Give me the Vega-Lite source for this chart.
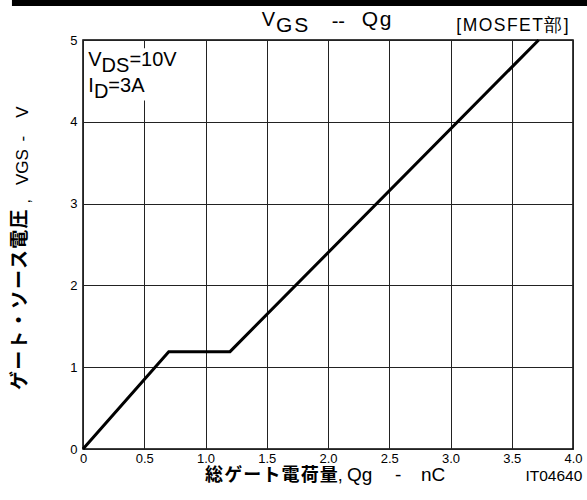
{
  "$schema": "https://vega.github.io/schema/vega-lite/v6.json",
  "width": 490,
  "height": 409,
  "autosize": {"type": "none"},
  "padding": {"left": 83, "top": 40, "right": 14, "bottom": 51},
  "background": "white",
  "config": {
    "view": {"stroke": "black", "strokeWidth": 1.5},
    "font": "Liberation Sans",
    "axis": {
      "grid": true,
      "gridColor": "#222222",
      "gridWidth": 1,
      "gridOpacity": 1,
      "domain": false,
      "ticks": false,
      "labelFont": "Liberation Sans",
      "labelFontSize": 13,
      "labelColor": "black",
      "labelOverlap": false,
      "labelFlush": false,
      "labelBound": false
    }
  },
  "layer": [
    {
      "data": {"values": [
        {"qg": 0, "vgs": 0},
        {"qg": 0.7, "vgs": 1.19},
        {"qg": 1.2, "vgs": 1.19},
        {"qg": 3.72, "vgs": 5}
      ]},
      "mark": {"type": "line", "color": "black", "strokeWidth": 3, "strokeJoin": "miter"},
      "encoding": {
        "x": {"field": "qg", "type": "quantitative", "scale": {"domain": [0, 4], "nice": false, "zero": false},
              "axis": {"title": null, "values": [0, 0.5, 1, 1.5, 2, 2.5, 3, 3.5, 4], "labelPadding": 3,
                       "labelExpr": "datum.value == 0 ? '0' : format(datum.value, '.1f')"}},
        "y": {"field": "vgs", "type": "quantitative", "scale": {"domain": [0, 5], "nice": false, "zero": false},
              "axis": {"title": null, "values": [0, 1, 2, 3, 4, 5], "labelPadding": 6,
                       "labelExpr": "format(datum.value, 'd')"}}
      }
    },
    {
      "data": {"values": [{}]},
      "mark": {"type": "rect", "color": "white"},
      "encoding": {"x": {"datum": 0.012}, "x2": {"datum": 0.76}, "y": {"datum": 4.26}, "y2": {"datum": 4.9}}
    },
    {
      "data": {"values": [{}]},
      "mark": {"type": "rect", "color": "black", "clip": false},
      "encoding": {"x": {"datum": -0.58}, "x2": {"datum": 4.2}, "y": {"datum": 5.416}, "y2": {"datum": 5.55}}
    },
    {"data": {"values": [{}]}, "mark": {"type": "text", "text": "V", "fontSize": 20, "align": "left", "baseline": "alphabetic", "font": "Liberation Sans"},
     "encoding": {"x": {"datum": 1.459}, "y": {"datum": 5.175}}},
    {"data": {"values": [{}]}, "mark": {"type": "text", "text": "G\u200aS", "fontSize": 21, "align": "left", "baseline": "alphabetic", "font": "Liberation Sans"},
     "encoding": {"x": {"datum": 1.576}, "y": {"datum": 5.094}}},
    {"data": {"values": [{}]}, "mark": {"type": "text", "text": "--", "fontSize": 20, "align": "left", "baseline": "alphabetic", "font": "Liberation Sans"},
     "encoding": {"x": {"datum": 2.03}, "y": {"datum": 5.147}}},
    {"data": {"values": [{}]}, "mark": {"type": "text", "text": "Q\u200ag", "fontSize": 21, "align": "left", "baseline": "alphabetic", "font": "Liberation Sans"},
     "encoding": {"x": {"datum": 2.275}, "y": {"datum": 5.171}}},
    {"data": {"values": [{}]}, "mark": {"type": "text", "text": "[\u200aM\u200aO\u200aS\u200aF\u200aE\u200aT\u200a部\u200a]", "fontSize": 17.5, "align": "center", "baseline": "alphabetic", "font": "Liberation Sans"},
     "encoding": {"x": {"datum": 3.506}, "y": {"datum": 5.11}}},
    {"data": {"values": [{}]}, "mark": {"type": "text", "text": "V", "fontSize": 20, "align": "left", "baseline": "alphabetic", "font": "Liberation Sans"},
     "encoding": {"x": {"datum": 0.043}, "y": {"datum": 4.682}}},
    {"data": {"values": [{}]}, "mark": {"type": "text", "text": "DS", "fontSize": 20, "align": "left", "baseline": "alphabetic", "font": "Liberation Sans"},
     "encoding": {"x": {"datum": 0.152}, "y": {"datum": 4.612}}},
    {"data": {"values": [{}]}, "mark": {"type": "text", "text": "=10V", "fontSize": 20, "align": "left", "baseline": "alphabetic", "font": "Liberation Sans"},
     "encoding": {"x": {"datum": 0.379}, "y": {"datum": 4.682}}},
    {"data": {"values": [{}]}, "mark": {"type": "text", "text": "I", "fontSize": 20, "align": "left", "baseline": "alphabetic", "font": "Liberation Sans"},
     "encoding": {"x": {"datum": 0.043}, "y": {"datum": 4.368}}},
    {"data": {"values": [{}]}, "mark": {"type": "text", "text": "D", "fontSize": 20, "align": "left", "baseline": "alphabetic", "font": "Liberation Sans"},
     "encoding": {"x": {"datum": 0.089}, "y": {"datum": 4.286}}},
    {"data": {"values": [{}]}, "mark": {"type": "text", "text": "=3A", "fontSize": 20, "align": "left", "baseline": "alphabetic", "font": "Liberation Sans"},
     "encoding": {"x": {"datum": 0.207}, "y": {"datum": 4.368}}},
    {"data": {"values": [{}]}, "mark": {"type": "text", "text": "総\u200aゲ\u200aー\u200aト\u200a電\u200a荷\u200a量", "fontSize": 18, "fontWeight": "bold", "align": "left", "baseline": "alphabetic", "font": "Noto Sans CJK JP"},
     "encoding": {"x": {"datum": 0.996}, "y": {"datum": -0.395}}},
    {"data": {"values": [{}]}, "mark": {"type": "text", "text": ",", "fontSize": 18, "align": "left", "baseline": "alphabetic", "font": "Liberation Sans"},
     "encoding": {"x": {"datum": 2.08}, "y": {"datum": -0.391}}},
    {"data": {"values": [{}]}, "mark": {"type": "text", "text": "Qg", "fontSize": 19, "align": "left", "baseline": "alphabetic", "font": "Liberation Sans"},
     "encoding": {"x": {"datum": 2.155}, "y": {"datum": -0.391}}},
    {"data": {"values": [{}]}, "mark": {"type": "text", "text": "-", "fontSize": 19, "align": "left", "baseline": "alphabetic", "font": "Liberation Sans"},
     "encoding": {"x": {"datum": 2.547}, "y": {"datum": -0.391}}},
    {"data": {"values": [{}]}, "mark": {"type": "text", "text": "nC", "fontSize": 19, "align": "left", "baseline": "alphabetic", "font": "Liberation Sans"},
     "encoding": {"x": {"datum": 2.759}, "y": {"datum": -0.391}}},
    {"data": {"values": [{}]}, "mark": {"type": "text", "text": "IT04640", "fontSize": 15.5, "align": "left", "baseline": "alphabetic", "font": "Liberation Sans"},
     "encoding": {"x": {"datum": 3.612}, "y": {"datum": -0.391}}},
    {"data": {"values": [{}]}, "mark": {"type": "text", "text": "ゲ\u200aー\u200aト\u200a・\u200aソ\u200aー\u200aス\u200a電\u200a圧", "fontSize": 19, "fontWeight": "bold", "align": "left", "baseline": "middle", "angle": 270, "font": "Noto Sans CJK JP"},
     "encoding": {"x": {"datum": -0.514}, "y": {"datum": 0.721}}},
    {"data": {"values": [{}]}, "mark": {"type": "text", "text": ",", "fontSize": 16, "align": "left", "baseline": "middle", "angle": 270, "font": "Liberation Sans"},
     "encoding": {"x": {"datum": -0.47}, "y": {"datum": 3.0}}},
    {"data": {"values": [{}]}, "mark": {"type": "text", "text": "VGS", "fontSize": 17, "align": "left", "baseline": "middle", "angle": 270, "font": "Liberation Sans"},
     "encoding": {"x": {"datum": -0.49}, "y": {"datum": 3.227}}},
    {"data": {"values": [{}]}, "mark": {"type": "text", "text": "-", "fontSize": 17, "align": "left", "baseline": "middle", "angle": 270, "font": "Liberation Sans"},
     "encoding": {"x": {"datum": -0.49}, "y": {"datum": 3.76}}},
    {"data": {"values": [{}]}, "mark": {"type": "text", "text": "V", "fontSize": 17, "align": "left", "baseline": "middle", "angle": 270, "font": "Liberation Sans"},
     "encoding": {"x": {"datum": -0.49}, "y": {"datum": 4.05}}}
  ]
}
